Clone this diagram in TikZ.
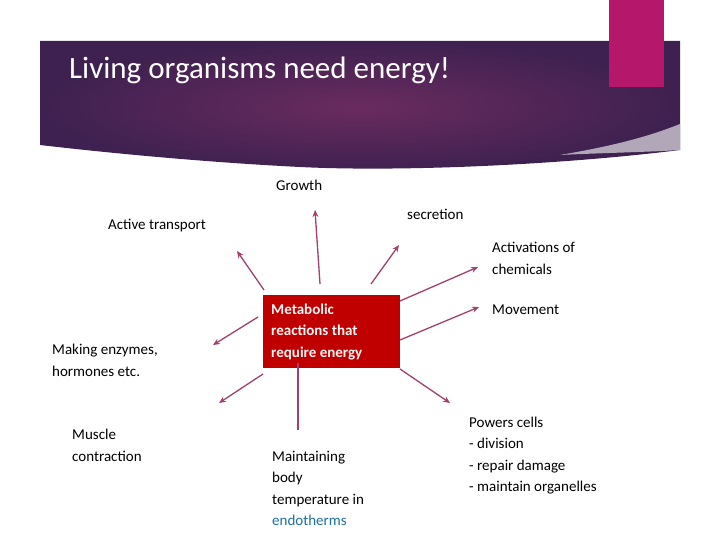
\documentclass[tikz,border=0pt]{standalone}
\usepackage{fontspec}
\setmainfont{Carlito}
\begin{document}
\begin{tikzpicture}[x=1pt,y=-1pt,
  lbl/.style={anchor=west,align=left,inner sep=0pt,font=\fontsize{15}{21.5}\selectfont},
  arr/.style={draw=arrc,line width=1.3pt,-{Stealth[length=7pt,width=6pt]}}]
\usetikzlibrary{arrows.meta}
\definecolor{arrc}{HTML}{A3406E}
\definecolor{ban1}{HTML}{3E2150}
\definecolor{ban2}{HTML}{6A2B5F}
\definecolor{pinkr}{HTML}{B5176B}
\definecolor{boxr}{HTML}{C00000}
\definecolor{bluet}{HTML}{1F6FA0}
\useasboundingbox (0,0) rectangle (720,540);
\fill[white] (0,0) rectangle (720,540);
% banner
\shade[inner color=ban2,outer color=ban1] (40,41) -- (680,41) -- (680,150) .. controls (560,165) and (400,172) .. (300,167) .. controls (200,162) and (100,152) .. (40,145) -- cycle;
\fill[white!60!ban1] (680,124) .. controls (640,140) and (600,148) .. (560,155) .. controls (600,153) and (650,152) .. (680,150) -- cycle;
\fill[pinkr] (609,0) rectangle (664,87);
\node[anchor=west,text=white,inner sep=0pt,font=\fontsize{31}{36}\selectfont] (title) at (69,70) {Living organisms need energy!};
% center box
\node[fill=boxr,minimum width=137pt,minimum height=73pt,inner sep=0pt] (box) at (331.5,331.5) {};
\node[lbl,text=white!85!pink,font=\bfseries\fontsize{15}{21.5}\selectfont] (boxt) at (271,332) {Metabolic\\reactions that\\require energy};
% labels
\node[lbl] (growth) at (276,185) {Growth};
\node[lbl] (active) at (108,226) {Active transport};
\node[lbl] (secr) at (407,214) {secretion};
\node[lbl] (activ) at (492,258.5) {Activations of\\chemicals};
\node[lbl] (move) at (492,310) {Movement};
\node[lbl] (enz) at (52,360.5) {Making enzymes,\\hormones etc.};
\node[lbl] (musc) at (72,445.5) {Muscle\\contraction};
\node[lbl] (maint) at (272,488.5) {Maintaining\\body\\temperature in\\\textcolor{bluet}{endotherms}};
\node[lbl] (powers) at (469,455.5) {Powers cells\\- division\\- repair damage\\- maintain organelles};
% connectors
\coordinate (g1) at (320,284); \coordinate (g2) at (315,210);
\coordinate (a1) at (264,290); \coordinate (a2) at (237,251);
\coordinate (s1) at (371,284); \coordinate (s2) at (399,245);
\coordinate (c1) at (400,301); \coordinate (c2) at (478,267);
\coordinate (m1) at (400,340); \coordinate (m2) at (479,307);
\coordinate (e1) at (258,317); \coordinate (e2) at (213,345);
\coordinate (u1) at (263,374); \coordinate (u2) at (219,403);
\coordinate (p1) at (400,369); \coordinate (p2) at (450,403);
\coordinate (t1) at (298,363); \coordinate (t2) at (298,430);
\draw[arr] (g1) -- (g2);
\draw[arr] (a1) -- (a2);
\draw[arr] (s1) -- (s2);
\draw[arr] (c1) -- (c2);
\draw[arr] (m1) -- (m2);
\draw[arr] (e1) -- (e2);
\draw[arr] (u1) -- (u2);
\draw[arr] (p1) -- (p2);
\draw[draw=arrc,line width=1.3pt] (t1) -- (t2);
\end{tikzpicture}
\end{document}
